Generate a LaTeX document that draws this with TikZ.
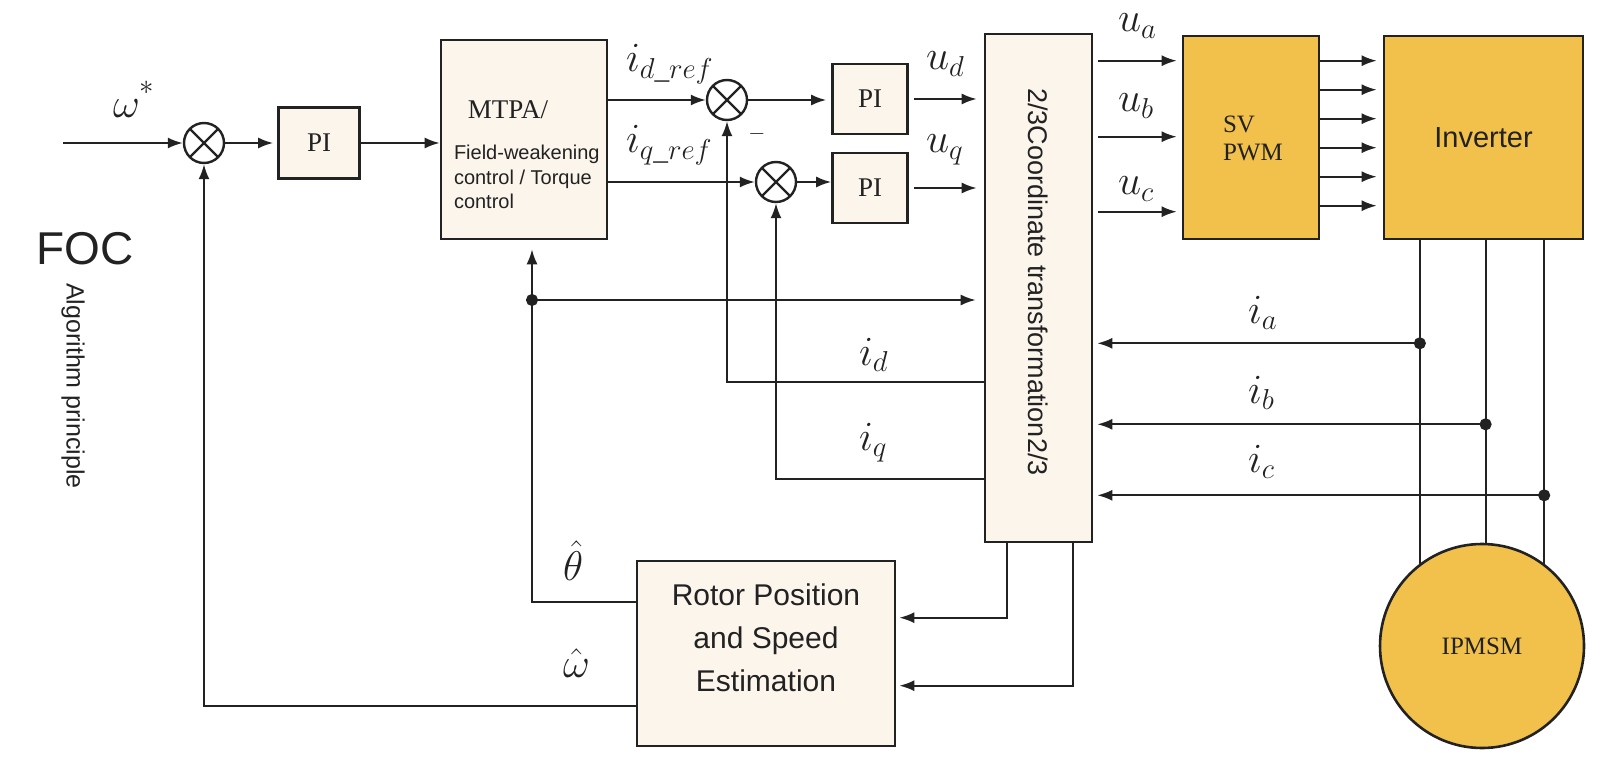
\documentclass[tikz,border=0pt]{standalone}
\usepackage{amsmath}
\usepackage{fontspec}
\setmainfont{Liberation Serif}
\setsansfont{Liberation Sans}
\usetikzlibrary{arrows.meta,calc}
\definecolor{edge}{RGB}{34,34,34}
\definecolor{cream}{RGB}{251,245,236}
\definecolor{gold}{RGB}{242,193,76}

\begin{document}
\begin{tikzpicture}[x=0.5pt,y=-0.5pt,line width=1pt,color=edge,
    >={Latex[length=7.5pt,width=5.5pt]},
    blk/.style={draw,line width=1.3pt,fill=cream,inner sep=0pt},
    hot/.style={draw,line width=1.3pt,fill=gold,inner sep=0pt},
    summer/.style={circle,draw,line width=1.2pt,minimum size=20pt,inner sep=0pt,
      path picture={\draw[line width=1.1pt]
        (path picture bounding box.north west) -- (path picture bounding box.south east)
        (path picture bounding box.north east) -- (path picture bounding box.south west);}},
    sig/.style={font=\fontsize{21}{21}\selectfont,inner sep=0pt,anchor=base west},
    gapin/.style={shorten >=#1}, gapin/.default=3pt,
    gapout/.style={shorten <=2.5pt}]
  \useasboundingbox (0,0) rectangle (1600,759);

  \node[font=\sffamily\fontsize{23}{23}\selectfont,inner sep=0pt] (foc) at (85,249) {FOC};
  \node[font=\sffamily\fontsize{12.5}{12.5}\selectfont,inner sep=0pt,rotate=-90] (algo) at (73,386) {Algorithm principle};

  \coordinate (wref) at (63,143);
  \node[summer] (s1) at (204,143) {};
  \node[blk,minimum width=40.5pt,minimum height=35.5pt,font=\fontsize{13.5}{13.5}\selectfont] (pi1) at (319,143) {PI};
  \node[blk,minimum width=83pt,minimum height=99.5pt] (mtpa) at (524,139.5) {};
  \node[font=\fontsize{13.5}{13.5}\selectfont,inner sep=0pt] (mtpatxt) at (508,110) {MTPA/};
  \node[font=\sffamily\fontsize{10}{12.25}\selectfont,align=left,inner sep=0pt,anchor=west] (fwtxt) at (453,177) {Field-weakening\\control / Torque\\control};

  \node[summer] (s2) at (727,100) {};
  \node[summer] (s3) at (776,182) {};
  \node[blk,minimum width=37.5pt,minimum height=35pt,font=\fontsize{13.5}{13.5}\selectfont] (pid) at (870,99) {PI};
  \node[blk,minimum width=37.5pt,minimum height=35pt,font=\fontsize{13.5}{13.5}\selectfont] (piq) at (870,188) {PI};

  \node[blk,minimum width=53.5pt,minimum height=254pt] (coord) at (1038.5,288) {};
  \node[font=\sffamily\fontsize{13.5}{13.5}\selectfont,inner sep=0pt,rotate=-90] (coordtxt) at (1038,282) {2/3Coordinate transformation2/3};

  \node[hot,minimum width=68pt,minimum height=101.5pt] (svpwm) at (1251,137.5) {};
  \node[font=\fontsize{12.5}{14}\selectfont,align=left,inner sep=0pt,anchor=north west] (svtxt) at (1222,115) {SV\\PWM};
  \node[hot,minimum width=99.5pt,minimum height=101.5pt,font=\sffamily\fontsize{14.5}{14.5}\selectfont] (inv) at (1483.5,137.5) {Inverter};
  \node[hot,circle,minimum size=102pt,font=\fontsize{12.5}{12.5}\selectfont] (motor) at (1482,646) {IPMSM};

  \node[blk,minimum width=129pt,minimum height=92.5pt] (est) at (766,653.5) {};
  \node[font=\sffamily\fontsize{15}{21.5}\selectfont,align=center,inner sep=0pt] (esttxt) at (766,638) {Rotor Position\\and Speed\\Estimation};

  \draw[->] (wref) -- (s1.west);
  \draw[->,gapin=2pt] (s1.east) -- (pi1.west);
  \draw[->] (pi1.east) -- (mtpa.west |- pi1.east);
  \draw[->] (mtpa.east |- s2.west) -- (s2.west);
  \draw[->] (mtpa.east |- s3.west) -- (s3.west);
  \draw[->,gapin=2.5pt] (s2.east) -- (pid.west |- s2.east);
  \draw[->] (s3.east) -- (piq.west |- s3.east);
  \draw[->,gapin=3.5pt,gapout] (pid.east) -- (pid.east -| coord.west);
  \draw[->,gapin=3.5pt,gapout] (piq.east) -- (piq.east -| coord.west);

  \coordinate (thout) at ($(est.north west)+(0,42)$);
  \coordinate (wout) at ($(est.north west)+(0,146)$);
  \coordinate (jn) at (532,300);
  \draw[->,gapin=4.5pt] (thout) -| (jn) -- (jn |- mtpa.south);
  \filldraw (jn) circle[radius=2.5pt];
  \draw[->,gapin=4pt] (jn) -- (jn -| coord.west);
  \draw[->] (wout) -| (s1.south);

  \coordinate (idout) at ($(coord.north west)+(0,349)$);
  \coordinate (iqout) at ($(coord.north west)+(0,446)$);
  \draw[->] (idout) -| (s2.south);
  \draw[->] (iqout) -| (s3.south);
  \coordinate (cb1) at ($(coord.south west)+(23,0)$);
  \coordinate (cb2) at ($(coord.south west)+(89,0)$);
  \draw[->,gapin=1.5pt] (cb1) |- ($(est.north east)+(0,58)$);
  \draw[->,gapin=1.5pt] (cb2) |- ($(est.north east)+(0,126)$);

  \foreach \yy [count=\k] in {28,104,179} {
    \coordinate (u\k) at ($(coord.north east)+(0,\yy)$);
    \draw[->,gapin=2.5pt,gapout] (u\k) -- (u\k -| svpwm.west);
  }
  \foreach \k in {0,...,5} {
    \coordinate (g\k) at ($(svpwm.north east)+(0,26+29*\k)$);
    \draw[->,gapin=3pt] (g\k) -- (g\k -| inv.west);
  }
  \foreach \ang/\yy/\k in {127/342/a,88/423/b,53/494/c} {
    \draw (motor.\ang |- inv.south) -- (motor.\ang);
    \coordinate (j\k) at ($(motor.\ang |- inv.south)+(0,\yy-239)$);
    \filldraw (j\k) circle[radius=2.5pt];
    \draw[->,gapin=2pt] (j\k) -- (j\k -| coord.east);
  }

  \node[sig] (lwref) at (112,118) {$\omega^{\raisebox{4pt}{$\scriptstyle *$}}$};
  \node[sig] (lidref) at (625,72) {$i_{d\_ref}$};
  \node[sig] (liqref) at (625,153) {$i_{q\_ref}$};
  \node[font=\fontsize{11}{11}\selectfont,inner sep=0pt] (lminus) at (757,134) {$-$};
  \node[sig] (lud) at (925,70) {$u_d$};
  \node[sig] (luq) at (925,153) {$u_q$};
  \node[sig] (lua) at (1117,32) {$u_a$};
  \node[sig] (lub) at (1117,112) {$u_b$};
  \node[sig] (luc) at (1117,195) {$u_c$};
  \node[sig] (lid) at (858,365) {$i_d$};
  \node[sig] (liq) at (858,450) {$i_q$};
  \node[sig] (lia) at (1247,323) {$i_a$};
  \node[sig] (lib) at (1247,403) {$i_b$};
  \node[sig] (lic) at (1247,472) {$i_c$};
  \node[sig] (lth) at (562,580) {$\hat{\theta}$};
  \node[sig] (lwh) at (562,677) {$\hat{\omega}$};
\end{tikzpicture}
\end{document}
